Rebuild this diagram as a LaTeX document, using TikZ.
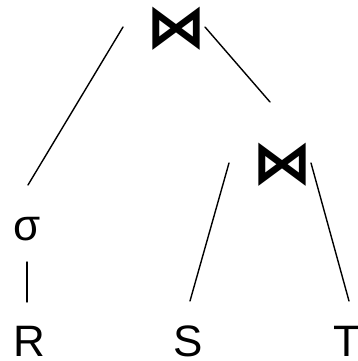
\documentclass[tikz,border=0pt]{standalone}
\usepackage{fontspec}
\setmainfont{Liberation Sans}
\newfontfamily\symfont{DejaVu Sans}

\begin{document}
\begin{tikzpicture}[x=1pt, y=-1pt, line cap=round,
  edge/.style={line width=1.4pt},
  rel/.style={inner sep=0pt, anchor=base, font=\fontsize{44}{44}\selectfont},
  joinop/.style={inner sep=0pt, font=\symfont\bfseries\fontsize{60}{60}\selectfont}]
\useasboundingbox (0,0) rectangle (358,361);
% 连接运算
\node[joinop] (j1) at (176,29) {⋈};
\node[joinop] (j2) at (282,165) {⋈};
% 选择与关系
\node[rel] (sig) at (27,240) {σ};
\foreach \r/\x in {R/29, S/188, T/347} {
  \node[rel] (\r) at (\x,356) {\r};
}
% 树的边
\draw[edge] ([shift={(-53,-2)}]j1.center) -- ([shift={(1,-55)}]sig.base);
\draw[edge] ([shift={(29,-2)}]j1.center) -- ([shift={(-12,-63)}]j2.center);
\draw[edge] ([shift={(0,22)}]sig.base) -- ([shift={(-2,-54)}]R.base);
\draw[edge] ([shift={(-53,-2)}]j2.center) -- ([shift={(2,-55)}]S.base);
\draw[edge] ([shift={(29,-2)}]j2.center) -- ([shift={(2,-55)}]T.base);
\end{tikzpicture}
\end{document}
